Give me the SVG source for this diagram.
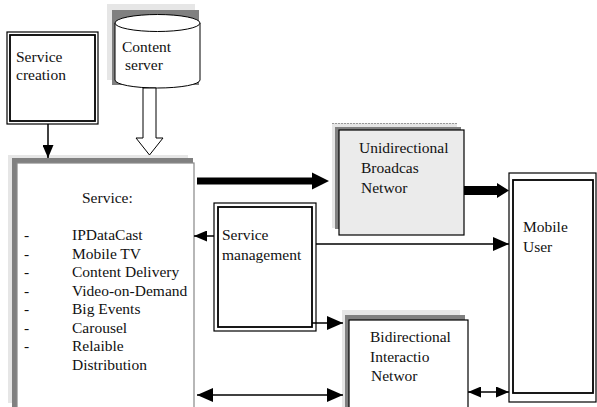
<svg xmlns="http://www.w3.org/2000/svg" width="597" height="407" viewBox="0 0 597 407">
  <style>
    text { font-family: "Liberation Serif", "Times New Roman", serif; font-size: 15.5px; fill: #111; }
    .frame { fill: #fff; stroke: #000; stroke-width: 1.2; }
    .frame-in { fill: none; stroke: #000; stroke-width: 1.8; }
    .shade-lt { fill: #e6e6e6; }
    .shade-dk { fill: #808080; }
    .wire { fill: none; stroke: #000; stroke-width: 1.5; }
    .thick { fill: #000; stroke: none; }
  </style>
  <defs>
    <marker id="arrow" markerUnits="userSpaceOnUse" viewBox="0 0 16 14" markerWidth="16" markerHeight="14" refX="16" refY="7" orient="auto-start-reverse">
      <path d="M0,0 L16,7 L0,14 Z" fill="#000"/>
    </marker>
    <marker id="arrow-sm" markerUnits="userSpaceOnUse" viewBox="0 0 13 11" markerWidth="13" markerHeight="11" refX="13" refY="5.5" orient="auto-start-reverse">
      <path d="M0,0 L13,5.5 L0,11 Z" fill="#000"/>
    </marker>
  </defs>

  <rect width="597" height="407" fill="#fff"/>

  <!-- Service creation -->
  <g id="service-creation">
    <rect class="frame" x="7" y="32" width="91" height="92"/>
    <rect class="frame-in" x="10" y="35" width="85" height="86"/>
    <text x="16" y="62">Service</text>
    <text x="16" y="80">creation</text>
  </g>

  <!-- Content server (cylinder with drop shadow) -->
  <g id="content-server">
    <rect class="shade-lt" x="107" y="4" width="88" height="76"/>
    <rect class="shade-dk" x="112" y="10" width="87" height="75"/>
    <path d="M115,23 L115,80 A42.5,8 0 0 0 200,80 L200,23" fill="#fff" stroke="#000" stroke-width="1"/>
    <ellipse cx="157.5" cy="23" rx="42.5" ry="8.5" fill="#fff" stroke="#000" stroke-width="1"/>
    <text x="122" y="52">Content</text>
    <text x="125" y="70">server</text>
  </g>

  <!-- Service list -->
  <g id="service">
    <rect class="shade-lt" x="8" y="155" width="180" height="248"/>
    <rect class="shade-dk" x="12" y="158" width="181" height="252"/>
    <rect x="17" y="163" width="177" height="250" fill="#fff" stroke="#888" stroke-width="1.2"/>
    <text x="82" y="203">Service:</text>
    <g>
      <text x="24" y="240">-</text><text x="72" y="240">IPDataCast</text>
      <text x="24" y="259">-</text><text x="72" y="259">Mobile TV</text>
      <text x="24" y="277">-</text><text x="72" y="277">Content Delivery</text>
      <text x="24" y="296">-</text><text x="72" y="296">Video-on-Demand</text>
      <text x="24" y="314">-</text><text x="72" y="314">Big Events</text>
      <text x="24" y="333">-</text><text x="72" y="333">Carousel</text>
      <text x="24" y="351">-</text><text x="72" y="351">Relaible</text>
      <text x="72" y="370">Distribution</text>
    </g>
  </g>

  <!-- Service management -->
  <g id="service-management">
    <rect class="frame" x="214" y="203" width="102" height="128"/>
    <rect class="frame-in" x="218" y="207" width="94" height="120"/>
    <text x="222" y="240">Service</text>
    <text x="222" y="260">management</text>
  </g>

  <!-- Unidirectional broadcast network -->
  <g id="unidirectional-network">
    <rect class="shade-lt" x="332" y="123" width="125" height="105"/>
    <line x1="332" y1="123.5" x2="457" y2="123.5" stroke="#999" stroke-width="1" stroke-dasharray="2,1"/>
    <rect class="shade-dk" x="335" y="127" width="126" height="102"/>
    <rect x="339" y="130" width="125" height="105" fill="#ebebeb" stroke="#000" stroke-width="1.2"/>
    <text x="359" y="153">Unidirectional</text>
    <text x="361" y="173">Broadcas</text>
    <text x="361" y="193">Networ</text>
  </g>

  <!-- Bidirectional interaction network -->
  <g id="bidirectional-network">
    <rect class="shade-lt" x="342" y="310" width="118" height="97"/>
    <rect class="shade-dk" x="345" y="315" width="120" height="95"/>
    <rect x="349" y="320" width="119" height="92" fill="#fff" stroke="#000" stroke-width="1.2"/>
    <text x="370" y="342">Bidirectional</text>
    <text x="370" y="362">Interactio</text>
    <text x="371" y="381">Networ</text>
  </g>

  <!-- Mobile user -->
  <g id="mobile-user">
    <rect class="frame" x="509" y="173" width="87" height="229"/>
    <rect class="frame-in" x="513" y="180" width="80" height="213"/>
    <text x="523" y="232">Mobile</text>
    <text x="523" y="252">User</text>
  </g>

  <!-- Connectors -->
  <g id="connectors">
    <!-- creation -> service -->
    <path class="wire" d="M48,124 L48,158" marker-end="url(#arrow-sm)"/>
    <!-- content server -> service (hollow arrow) -->
    <polygon points="143,88 156,88 156,138 163,138 149.5,155 136,138 143,138" fill="#fff" stroke="#000" stroke-width="1"/>
    <!-- service -> unidirectional network (thick) -->
    <polygon class="thick" points="197,177.5 312,177.5 312,172.5 329,181 312,189.5 312,184.5 197,184.5"/>
    <!-- unidirectional network -> mobile user (thick) -->
    <polygon class="thick" points="464,186 497,186 497,183 509,190.5 497,198 497,195 464,195"/>
    <!-- management -> service -->
    <path class="wire" d="M214,236 L194,236" marker-end="url(#arrow-sm)"/>
    <!-- management -> mobile user -->
    <path class="wire" d="M316,244 L509,244" marker-end="url(#arrow)"/>
    <!-- management -> bidirectional network -->
    <path class="wire" d="M312,323 L343,323" marker-end="url(#arrow)"/>
    <!-- service <-> bidirectional network -->
    <path class="wire" d="M197,395 L343,395" marker-start="url(#arrow)" marker-end="url(#arrow)"/>
    <!-- bidirectional network <-> mobile user -->
    <path class="wire" d="M468,392 L509,392" marker-start="url(#arrow-sm)" marker-end="url(#arrow-sm)"/>
  </g>
</svg>
